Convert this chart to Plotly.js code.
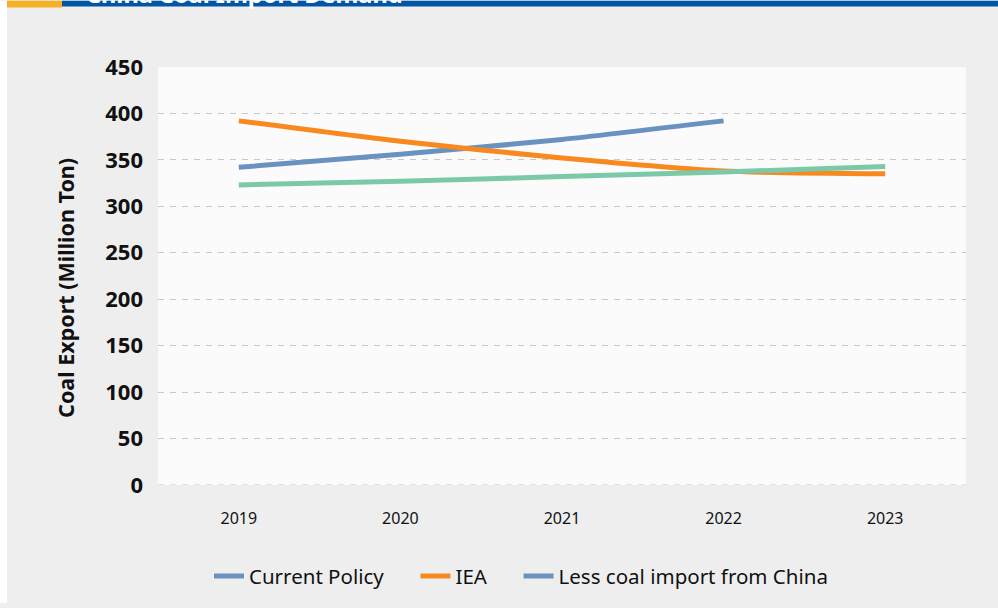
<!DOCTYPE html>
<html>
<head>
<meta charset="utf-8">
<script src="https://cdn.plot.ly/plotly-3.0.1.min.js"></script>
<style>html,body{margin:0;padding:0;background:#fff;}#chart{width:998px;height:608px;}</style>
</head>
<body>
<div id="chart"></div>
<script>
const years = ['2019', '2020', '2021', '2022', '2023'];
const currentPolicy = [342, 356, 372, 392, null];
const iea = [392, 370, 352, 338, 335];
const lessChina = [323, 327, 332, 337, 343];
const seriesNames = ['Current Policy', 'IEA', 'Less coal import from China'];
const yTicks = [0, 50, 100, 150, 200, 250, 300, 350, 400, 450];
const yTitle = 'Coal Export (Million Ton)';
const chartTitle = 'China Coal Import Demand';

const font = '"Noto Sans", "Open Sans", sans-serif';
const blue = '#6a92c0', orange = '#f7891f', green = '#7cc9a8';
const pad = '\u00a0\u00a0\u00a0\u00a0\u00a0';

const traces = [
  {x: years, y: currentPolicy, name: seriesNames[0] + pad, type: 'scatter', mode: 'lines',
   line: {color: blue, width: 5, shape: 'spline', smoothing: 0.6}},
  {x: years, y: iea, name: seriesNames[1] + pad, type: 'scatter', mode: 'lines',
   line: {color: orange, width: 5, shape: 'spline', smoothing: 0.6}},
  {x: years, y: lessChina, name: seriesNames[2], type: 'scatter', mode: 'lines', showlegend: false,
   line: {color: green, width: 5, shape: 'spline', smoothing: 0.6}},
  {x: [null], y: [null], name: seriesNames[2], type: 'scatter', mode: 'lines',
   line: {color: blue, width: 5}}
];

const L = 158, R = 966, T = 67, B = 489;
const px = v => (v - L) / (R - L);
const py = v => (B - v) / (B - T);

const layout = {
  width: 998, height: 608,
  margin: {l: L, r: 998 - R, t: T, b: 608 - B},
  paper_bgcolor: '#eeeeee',
  plot_bgcolor: '#fbfbfb',
  font: {family: font, color: '#111'},
  showlegend: true,
  legend: {orientation: 'h', x: px(521), xanchor: 'center', y: py(581), yanchor: 'middle',
           font: {size: 20.5, color: '#111'}, bgcolor: 'rgba(0,0,0,0)', traceorder: 'normal'},
  xaxis: {type: 'category', range: [-0.5, 4.5], showgrid: false, zeroline: false, showline: false,
          tickfont: {size: 16, color: '#111'}, ticks: '', ticklabelstandoff: 22},
  yaxis: {range: [0, 450], tickvals: yTicks, showgrid: true, gridcolor: '#c8c8c8',
          griddash: '6px,6px', gridwidth: 1, zeroline: false, showline: false,
          tickfont: {size: 22, color: '#111', weight: 'bold'}, ticks: '', ticklabelstandoff: 14},
  shapes: [
    {type: 'line', xref: 'paper', yref: 'y', x0: 0, x1: 1, y0: 0, y1: 0,
     line: {color: '#c8c8c8', width: 1, dash: '6px,6px'}, layer: 'below'},
    {type: 'rect', xref: 'paper', yref: 'paper', x0: px(0), x1: px(7), y0: py(608), y1: py(0),
     fillcolor: '#ffffff', line: {width: 0}},
    {type: 'rect', xref: 'paper', yref: 'paper', x0: px(62), x1: px(998), y0: py(6), y1: py(0),
     fillcolor: '#0055a5', line: {width: 0}},
    {type: 'rect', xref: 'paper', yref: 'paper', x0: px(7), x1: px(62), y0: py(7), y1: py(0),
     fillcolor: '#f5b025', line: {width: 0}}
  ],
  annotations: [
    {text: chartTitle, xref: 'paper', yref: 'paper', x: px(84), y: py(-7),
     xanchor: 'left', yanchor: 'middle', showarrow: false,
     font: {size: 23.5, color: '#ffffff', weight: 'bold', family: font}},
    {text: yTitle, xref: 'paper', yref: 'paper', x: px(66), y: py(290),
     xanchor: 'center', yanchor: 'middle', showarrow: false, textangle: -90,
     font: {size: 21.5, color: '#111', weight: 'bold', family: font}}
  ]
};

Plotly.newPlot('chart', traces, layout, {displayModeBar: false, staticPlot: true});
</script>
</body>
</html>
